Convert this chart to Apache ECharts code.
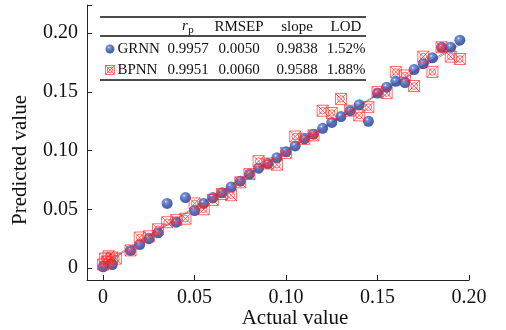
<!DOCTYPE html>
<html>
<head>
<meta charset="utf-8">
<script src="https://cdn.jsdelivr.net/npm/echarts@6/dist/echarts.min.js"></script>
<style>
  html, body { margin: 0; padding: 0; background: #fff; }
  #main { width: 506px; height: 330px; }
</style>
</head>
<body>
<div id="main"></div>
<script>
// GRNN: actual vs predicted
var grnnActual = [0, 0.005, 0.015, 0.02, 0.025, 0.03, 0.035, 0.04, 0.045, 0.05, 0.055, 0.06, 0.065, 0.07,
  0.075, 0.08, 0.085, 0.09, 0.095, 0.10, 0.105, 0.11, 0.115, 0.12, 0.125, 0.13, 0.135, 0.14, 0.145,
  0.15, 0.155, 0.16, 0.165, 0.17, 0.175, 0.18, 0.185, 0.19, 0.195];
var grnnPred = [0.001, 0.003, 0.015, 0.020, 0.025, 0.030, 0.055, 0.039, 0.060, 0.049, 0.055, 0.060, 0.064, 0.069,
  0.074, 0.080, 0.085, 0.089, 0.094, 0.099, 0.104, 0.110, 0.114, 0.119, 0.124, 0.129, 0.134, 0.139, 0.125,
  0.149, 0.154, 0.159, 0.158, 0.169, 0.174, 0.179, 0.188, 0.188, 0.194];

// BPNN: actual vs predicted
var bpnnActual = [0, 0.001, 0.002, 0.003, 0.005, 0.007, 0.015, 0.02, 0.025, 0.03, 0.035, 0.04, 0.045, 0.05,
  0.055, 0.06, 0.065, 0.07, 0.075, 0.08, 0.085, 0.09, 0.095, 0.10, 0.105, 0.11, 0.115, 0.12, 0.125,
  0.13, 0.135, 0.14, 0.145, 0.15, 0.155, 0.16, 0.165, 0.17, 0.175, 0.18, 0.185, 0.19, 0.195];
var bpnnPred = [0.003, 0.008, 0.005, 0.010, 0.009, 0.008, 0.015, 0.026, 0.027, 0.033, 0.039, 0.041, 0.042, 0.055,
  0.050, 0.058, 0.063, 0.062, 0.073, 0.080, 0.091, 0.089, 0.088, 0.098, 0.112, 0.110, 0.113, 0.134, 0.132,
  0.144, 0.134, 0.130, 0.137, 0.150, 0.149, 0.167, 0.164, 0.155, 0.180, 0.167, 0.188, 0.180, 0.178];

// table
var tableHeader = ['RMSEP', 'slope', 'LOD'];
var grnnStats = ['0.9957', '0.0050', '0.9838', '1.52%'];
var bpnnStats = ['0.9951', '0.0060', '0.9588', '1.88%'];

var xTicks = [0, 0.05, 0.10, 0.15, 0.20];
var yTicks = [0, 0.05, 0.10, 0.15, 0.20];

var FONT = 'Liberation Serif';

function pairs(a, b) {
  return a.map(function (v, i) { return [v, b[i]]; });
}
// least squares fit line across the data range
function fitLine(xs, ys) {
  var n = xs.length, sx = 0, sy = 0, sxx = 0, sxy = 0;
  for (var i = 0; i < n; i++) { sx += xs[i]; sy += ys[i]; sxx += xs[i] * xs[i]; sxy += xs[i] * ys[i]; }
  var k = (n * sxy - sx * sy) / (n * sxx - sx * sx);
  var b = (sy - k * sx) / n;
  var x0 = Math.min.apply(null, xs), x1 = Math.max.apply(null, xs);
  return [[x0, k * x0 + b], [x1, k * x1 + b]];
}

var ballColor = {
  type: 'radial', x: 0.38, y: 0.33, r: 0.68,
  colorStops: [
    { offset: 0, color: '#e4ebfb' },
    { offset: 0.18, color: '#5a7cd0' },
    { offset: 0.55, color: '#2b4fab' },
    { offset: 1, color: '#1a3582' }
  ]
};
var boxSymbol = 'path://M0,0H20V20H0Z M0,0L20,20 M20,0L0,20 M16,10A6,6,0,1,1,4,10A6,6,0,1,1,16,10Z';
var boxStyle = { color: 'rgba(0,0,0,0)', borderColor: '#ff2424', borderWidth: 0.85 };

var colCenters = [188, 239, 297, 346];
var graphics = [
  // table rules
  { type: 'line', shape: { x1: 100, y1: 17, x2: 366, y2: 17 }, style: { stroke: '#111', lineWidth: 1.3 } },
  { type: 'line', shape: { x1: 100, y1: 36, x2: 366, y2: 36 }, style: { stroke: '#111', lineWidth: 1.3 } },
  { type: 'line', shape: { x1: 100, y1: 80, x2: 366, y2: 80 }, style: { stroke: '#111', lineWidth: 1.3 } },
  { type: 'text', x: 185, y: 26, style: { text: 'r', font: 'italic 15px ' + FONT, fill: '#111', textAlign: 'center', textVerticalAlign: 'middle' } },
  { type: 'text', x: 191, y: 30, style: { text: 'p', font: '11px ' + FONT, fill: '#111', textAlign: 'center', textVerticalAlign: 'middle' } },
  // axis titles
  { type: 'text', x: 295, y: 318, style: { text: 'Actual value', font: '21px ' + FONT, fill: '#111', textAlign: 'center', textVerticalAlign: 'middle' } },
  { type: 'text', x: 20, y: 160, rotation: Math.PI / 2, style: { text: 'Predicted value', font: '21px ' + FONT, fill: '#111', textAlign: 'center', textVerticalAlign: 'middle' } }
];
tableHeader.forEach(function (t, i) {
  graphics.push({ type: 'text', x: colCenters[i + 1], y: 27, style: { text: t, font: '15px ' + FONT, fill: '#111', textAlign: 'center', textVerticalAlign: 'middle' } });
});
grnnStats.forEach(function (t, i) {
  graphics.push({ type: 'text', x: colCenters[i], y: 49, style: { text: t, font: '15px ' + FONT, fill: '#111', textAlign: 'center', textVerticalAlign: 'middle' } });
});
bpnnStats.forEach(function (t, i) {
  graphics.push({ type: 'text', x: colCenters[i], y: 70, style: { text: t, font: '15px ' + FONT, fill: '#111', textAlign: 'center', textVerticalAlign: 'middle' } });
});

var axisCommon = {
  type: 'value',
  axisLine: { show: true, onZero: false, lineStyle: { color: '#222', width: 1 } },
  axisTick: { show: true, inside: true, length: 5, lineStyle: { color: '#222' } },
  splitLine: { show: false },
  axisLabel: {
    color: '#111', fontFamily: FONT, fontSize: 20,
    formatter: function (v) { return v === 0 ? '0' : v.toFixed(2); }
  }
};

var myChart = echarts.init(document.getElementById('main'), null, { renderer: 'canvas' });
var option = {
  backgroundColor: '#fff',
  animation: false,
  textStyle: { fontFamily: FONT },
  grid: { left: 87, right: 37, top: 5, bottom: 50, outerBoundsMode: 'none' },
  legend: {
    orient: 'vertical', left: 105, top: 41, padding: 0, itemGap: 5,
    itemWidth: 9, itemHeight: 9,
    textStyle: { fontFamily: FONT, fontSize: 15, color: '#111', lineHeight: 16, padding: [0, 0, 0, -2] },
    data: [
      { name: 'GRNN', icon: 'circle', itemStyle: { color: ballColor } },
      { name: 'BPNN', icon: boxSymbol, itemStyle: boxStyle }
    ]
  },
  xAxis: echarts.util.merge({
    min: -0.0088, max: 0.2,
    axisTick: { customValues: xTicks },
    axisLabel: { customValues: xTicks, margin: 8 }
  }, axisCommon),
  yAxis: echarts.util.merge({
    min: -0.0102, max: 0.224,
    axisTick: { customValues: yTicks.concat([0.224]) },
    axisLabel: { customValues: yTicks, margin: 9 }
  }, axisCommon),
  graphic: graphics,
  series: [
    {
      name: 'GRNN fit', type: 'line', data: fitLine(grnnActual, grnnPred), symbol: 'none',
      lineStyle: { color: '#6f8fdc', width: 1 }, z: 1
    },
    {
      name: 'BPNN fit', type: 'line', data: fitLine(bpnnActual, bpnnPred), symbol: 'none',
      lineStyle: { color: '#f37a7a', width: 1 }, z: 1
    },
    {
      name: 'GRNN', type: 'scatter', data: pairs(grnnActual, grnnPred),
      symbol: 'circle', symbolSize: 11,
      itemStyle: { color: ballColor }, z: 2
    },
    {
      name: 'BPNN', type: 'scatter', data: pairs(bpnnActual, bpnnPred),
      symbol: boxSymbol, symbolSize: 11,
      itemStyle: boxStyle, z: 3
    }
  ]
};
myChart.setOption(option);
</script>
</body>
</html>
